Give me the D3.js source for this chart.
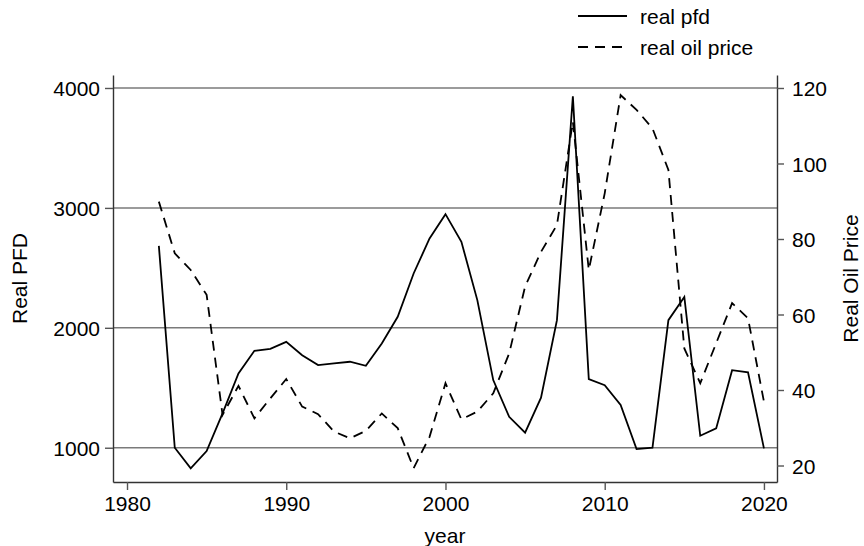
<!DOCTYPE html>
<meta charset="utf-8">
<style>
body { margin: 0; background: #fff; }
text { font-family: "Liberation Sans", Arial, sans-serif; fill: #000; }
.tick text { font-size: 21px; }
</style>
<body>
<div id="chart"></div>
<script src="https://d3js.org/d3.v7.min.js"></script>
<script>
var years = d3.range(1982, 2021);
var realPfd = [2683, 1000, 828, 972, 1287, 1620, 1808, 1825, 1883, 1772,
  1689, 1703, 1717, 1683, 1870, 2092, 2453, 2745, 2948, 2717,
  2231, 1564, 1258, 1125, 1417, 2064, 3931, 1572, 1522, 1356,
  989, 1000, 2064, 2258, 1100, 1161, 1647, 1628, 995];
var realOil = [89.9, 76.2, 71.8, 65.2, 33.4, 41.1, 32.5, 37.8, 42.9, 35.6,
  33.6, 29.0, 27.2, 29.2, 33.8, 29.9, 19.3, 27.6, 41.8, 32.2,
  34.3, 39.1, 49.7, 67.4, 76.6, 83.7, 111.1, 71.8, 92.1, 118.1,
  114.2, 109.3, 98.3, 51.0, 41.8, 52.4, 63.0, 59.0, 36.9];
var xTicks = [1980, 1990, 2000, 2010, 2020];
var pfdTicks = [1000, 2000, 3000, 4000];
var oilTicks = [20, 40, 60, 80, 100, 120];
var legendLabels = ["real pfd", "real oil price"];

var W = 864, H = 546;
var pLeft = 113, pRight = 777, pTop = 75, pBottom = 482;

var svg = d3.select("#chart").append("svg")
  .attr("width", W).attr("height", H);

var x = d3.scaleLinear().domain([1979.12, 2020.82]).range([pLeft, pRight]);
var yL = d3.scaleLinear().domain([714.2, 4108.3]).range([pBottom, pTop]);
var yR = d3.scaleLinear().domain([15.63, 123.44]).range([pBottom, pTop]);

// grid lines
svg.append("g").selectAll("line")
  .data(pfdTicks).enter().append("line")
  .attr("x1", pLeft).attr("x2", pRight)
  .attr("y1", function(d) { return yL(d); })
  .attr("y2", function(d) { return yL(d); })
  .attr("stroke", "#7a7a7a").attr("stroke-width", 1.5);

// axes
var gx = svg.append("g").attr("transform", "translate(0," + pBottom + ")")
  .call(d3.axisBottom(x).tickValues(xTicks).tickFormat(d3.format("d"))
    .tickSize(8).tickSizeOuter(0).tickPadding(6));
var gl = svg.append("g").attr("transform", "translate(" + pLeft + ",0)")
  .call(d3.axisLeft(yL).tickValues(pfdTicks).tickFormat(d3.format("d"))
    .tickSize(8).tickSizeOuter(0).tickPadding(5));
var gr = svg.append("g").attr("transform", "translate(" + pRight + ",0)")
  .call(d3.axisRight(yR).tickValues(oilTicks)
    .tickSize(7).tickSizeOuter(0).tickPadding(8));

[gx, gl, gr].forEach(function(g) {
  g.attr("font-family", null).attr("font-size", null);
  g.select(".domain").attr("stroke", "#333").attr("stroke-width", 1.4);
  g.selectAll(".tick line").attr("stroke", "#555").attr("stroke-width", 1.4);
});
gl.selectAll(".tick text").attr("dy", "0.36em");
gr.selectAll(".tick text").attr("dy", "0.36em");

// series lines
var line1 = d3.line()
  .x(function(d, i) { return x(years[i]); })
  .y(function(d) { return yL(d); });
var line2 = d3.line()
  .x(function(d, i) { return x(years[i]); })
  .y(function(d) { return yR(d); });

svg.append("path").datum(realPfd)
  .attr("d", line1).attr("fill", "none")
  .attr("stroke", "#000").attr("stroke-width", 1.8)
  .attr("stroke-linejoin", "miter");
svg.append("path").datum(realOil)
  .attr("d", line2).attr("fill", "none")
  .attr("stroke", "#000").attr("stroke-width", 1.8)
  .attr("stroke-dasharray", "10,7");

// axis titles
svg.append("text")
  .attr("x", (pLeft + pRight) / 2).attr("y", 543)
  .attr("text-anchor", "middle").attr("font-size", "21px")
  .text("year");
svg.append("text")
  .attr("transform", "translate(27," + (pTop + pBottom) / 2 + ") rotate(-90)")
  .attr("text-anchor", "middle").attr("font-size", "21px")
  .text("Real PFD");
svg.append("text")
  .attr("transform", "translate(858," + (pTop + pBottom) / 2 + ") rotate(-90)")
  .attr("text-anchor", "middle").attr("font-size", "21px")
  .text("Real Oil Price");

// legend
var leg = svg.append("g");
legendLabels.forEach(function(label, i) {
  var ly = 16 + i * 31;
  leg.append("line")
    .attr("x1", 578).attr("x2", 627).attr("y1", ly).attr("y2", ly)
    .attr("stroke", "#000").attr("stroke-width", 1.8)
    .attr("stroke-dasharray", i === 1 ? "10,7" : null);
  leg.append("text")
    .attr("x", 640).attr("y", ly).attr("dy", "0.36em")
    .attr("font-size", "21px")
    .text(label);
});
</script>
</body>
